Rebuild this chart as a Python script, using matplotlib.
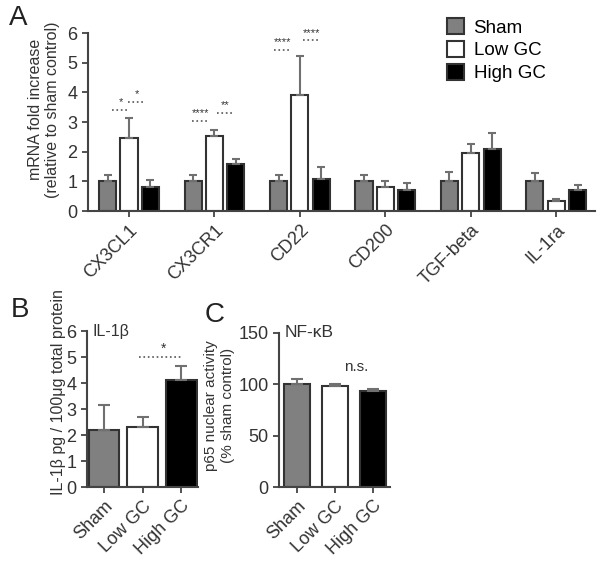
import matplotlib.pyplot as plt
import numpy as np

plt.rcParams['font.family'] = ['Liberation Sans', 'DejaVu Sans']

# panel A data
genes = ["CX3CL1", "CX3CR1", "CD22", "CD200", "TGF-beta", "IL-1ra"]
groups = ["Sham", "Low GC", "High GC"]
sham_mean = [1.0, 1.0, 1.0, 1.0, 1.0, 1.02]
sham_err = [0.23, 0.22, 0.23, 0.2, 0.3, 0.27]
low_mean = [2.45, 2.53, 3.92, 0.8, 1.97, 0.33]
low_err = [0.7, 0.2, 1.3, 0.2, 0.28, 0.06]
high_mean = [0.82, 1.58, 1.08, 0.7, 2.1, 0.7]
high_err = [0.22, 0.16, 0.41, 0.25, 0.52, 0.17]

# significance marks for panel A: (gene index, x offset, y, label)
sig_A = [(0, -0.1, 3.67, "*"), (0, 0.09, 3.94, "*"),
         (1, -0.16, 3.3, "****"), (1, 0.13, 3.57, "**"),
         (2, -0.2, 5.69, "****"), (2, 0.14, 6.0, "****")]

# panel B data
il1b_mean = [2.2, 2.32, 4.1]
il1b_err = [0.95, 0.38, 0.55]

# panel C data
nfkb_mean = [100.5, 98.0, 93.5]
nfkb_err = [4.5, 2.5, 1.5]

fills = ["#808080", "white", "black"]
edge = "#333333"
errc = "#707070"
txt = "#333333"


def style(ax):
    for s in ["top", "right"]:
        ax.spines[s].set_visible(False)
    for s in ["left", "bottom"]:
        ax.spines[s].set_linewidth(1.5)
        ax.spines[s].set_color("#444444")
    ax.tick_params(width=1.3, length=4, color="#444444", labelsize=13, colors=txt)


fig = plt.figure(figsize=(6.04, 5.65), dpi=100)

# ---- A
axA = fig.add_axes([0.1457, 0.6265, 0.839, 0.315])
x = np.arange(len(genes))
for i, (m, e) in enumerate([(sham_mean, sham_err), (low_mean, low_err), (high_mean, high_err)]):
    axA.bar(x + (i - 1) * 0.25, m, 0.2, color=fills[i], edgecolor=edge, linewidth=1.5,
            yerr=[np.zeros(len(m)), e], error_kw=dict(ecolor=errc, elinewidth=1.5, capsize=3, capthick=1.5),
            label=groups[i], zorder=2)
axA.set_xlim(-0.48, 5.45)
axA.set_ylim(0, 6)
axA.set_yticks(range(7))
axA.set_xticks(x)
axA.set_xticklabels(genes, rotation=45, ha="right", rotation_mode="anchor")
style(axA)
axA.set_ylabel("mRNA fold increase\n(relative to sham control)", fontsize=11.5, color=txt)
axA.yaxis.set_label_coords(-0.055, 0.57)
axA.legend(loc="upper left", bbox_to_anchor=(0.709, 1.083), frameon=False, fontsize=13.5,
           handlelength=0.9, handleheight=0.9, labelspacing=0.25, handletextpad=0.5,
           borderpad=0, borderaxespad=0)

for g, dx, yy, t in sig_A:
    axA.text(g + dx, yy, t, ha="center", va="center", fontsize=8, color=txt, clip_on=False)
    axA.plot([g + dx - 0.1, g + dx + 0.1], [yy - 0.25, yy - 0.25], ls=":", color="#555555", lw=1.2,
             clip_on=False)

fig.text(0.015, 0.956, "A", fontsize=20, color="#222222")

# ---- B
axB = fig.add_axes([0.144, 0.138, 0.184, 0.276])
xb = np.arange(3)
axB.bar(xb, il1b_mean, 0.8, color=fills, edgecolor=edge, linewidth=1.5,
        yerr=[np.zeros(3), il1b_err], error_kw=dict(ecolor=errc, elinewidth=1.5, capsize=4, capthick=1.5), zorder=2)
axB.set_xlim(-0.44, 2.44)
axB.set_ylim(0, 6)
axB.set_yticks(range(7))
axB.set_xticks(xb)
axB.set_xticklabels(groups, rotation=45, ha="right", rotation_mode="anchor")
style(axB)
axB.set_ylabel("IL-1β pg / 100μg total protein", fontsize=11.5, color=txt)
axB.yaxis.set_label_coords(-0.19, 0.61)
axB.plot([0.9, 2.0], [5.0, 5.0], ls=":", color="#555555", lw=1.2)
axB.text(1.55, 5.05, "*", ha="center", va="bottom", fontsize=10, color=txt)
axB.text(-0.3, 6.0, "IL-1β", fontsize=11.5, color=txt, va="center")
fig.text(0.017, 0.439, "B", fontsize=20, color="#222222")

# ---- C
axC = fig.add_axes([0.462, 0.138, 0.184, 0.273])
axC.bar(xb, nfkb_mean, 0.68, color=fills, edgecolor=edge, linewidth=1.5,
        yerr=[np.zeros(3), nfkb_err], error_kw=dict(ecolor=errc, elinewidth=1.5, capsize=4, capthick=1.5), zorder=2)
axC.set_xlim(-0.47, 2.45)
axC.set_ylim(0, 150)
axC.set_yticks([0, 50, 100, 150])
axC.set_xticks(xb)
axC.set_xticklabels(groups, rotation=45, ha="right", rotation_mode="anchor")
style(axC)
axC.set_ylabel("p65 nuclear activity\n(% sham control)", fontsize=11, color=txt)
axC.yaxis.set_label_coords(-0.40, 0.53)
axC.text(1.55, 117, "n.s.", ha="center", va="center", fontsize=11, color=txt)
axC.text(-0.32, 150, "NF-κB", fontsize=12.5, color=txt, va="center")
fig.text(0.338, 0.43, "C", fontsize=20, color="#222222")

fig.savefig("out.png", dpi=100)
